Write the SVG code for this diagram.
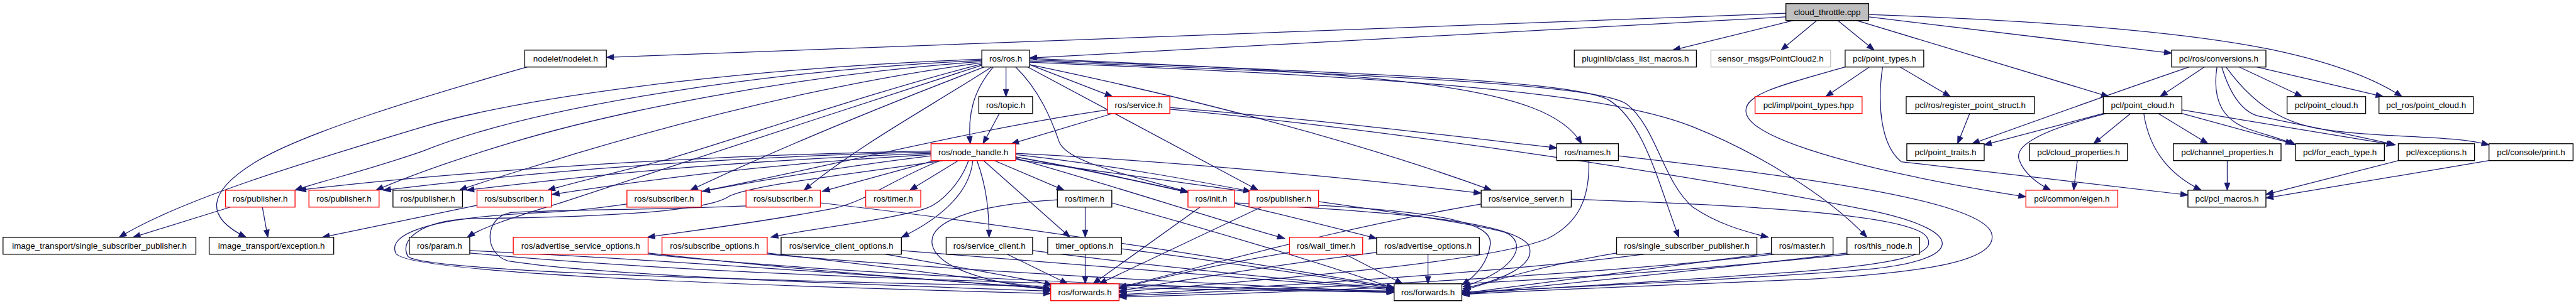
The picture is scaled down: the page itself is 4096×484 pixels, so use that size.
<svg xmlns="http://www.w3.org/2000/svg" width="4096" height="484" viewBox="0 0 4096 484">
<defs>
<style>
.e{fill:none;stroke:#191970;stroke-width:1.3;marker-end:url(#a)}
.b{fill:#fff;stroke:#000;stroke-width:1.4}
.r{stroke:#ff0000}
.g{fill:#bfbfbf}
.s{stroke:#bfbfbf}
text{font-family:"Liberation Sans",Arial,sans-serif;font-size:14px;text-anchor:middle;fill:#000}
</style>
<marker id="a" markerUnits="userSpaceOnUse" markerWidth="14" markerHeight="11" refX="12" refY="5" orient="auto" overflow="visible"><path d="M0,0.5 L12,5 L0,9.5 z" fill="#191970" stroke="#191970" stroke-width="1"/></marker>
</defs>
<rect width="4096" height="484" fill="#fff"/>
<g transform="scale(0.9613)">
<g id="edges">
<path class="e" d="M2954,22 L1003,95"/>
<path class="e" d="M2954,28 L1703,96"/>
<path class="e" d="M2966,34 L2767,83"/>
<path class="e" d="M3005,34 L2946,83"/>
<path class="e" d="M3040,34 L3100,83"/>
<path class="e" d="M3071,34 L3488,160"/>
<path class="e" d="M3091,28 L3592,88"/>
<path class="e" d="M3091,24 Q3550,40 3757,82 Q3900,112 3973,160"/>
<path class="e" d="M3092,111 L3020,160"/>
<path class="e" d="M3143,111 L3226,160"/>
<path class="e" d="M3052,111 C2950,140 2885,155 2888,185 C2892,235 3120,290 3351,326"/>
<path class="e" d="M3114,111 C3105,170 3110,240 3145,268 L3619,323"/>
<path class="e" d="M3621,111 Q3450,170 3262,238"/>
<path class="e" d="M3646,111 L3573,160"/>
<path class="e" d="M3667,111 C3658,170 3680,200 3720,214 C3750,224 3780,232 3797,240"/>
<path class="e" d="M3675,111 C3690,160 3710,185 3735,192 C3820,210 3900,225 3962,240"/>
<path class="e" d="M3682,111 C3725,170 3770,200 3830,212 C3930,230 4050,222 4117,240"/>
<path class="e" d="M3704,111 L3808,160"/>
<path class="e" d="M3733,111 L3942,160"/>
<path class="e" d="M3479,188 L3282,240"/>
<path class="e" d="M3524,188 L3463,238"/>
<path class="e" d="M3484,188 C3380,215 3330,240 3340,265 C3348,288 3372,305 3392,315"/>
<path class="e" d="M3546,188 C3555,250 3590,290 3641,315"/>
<path class="e" d="M3570,188 L3652,238"/>
<path class="e" d="M3609,188 L3793,238"/>
<path class="e" d="M3609,182 L3960,240"/>
<path class="e" d="M3258,188 L3238,238"/>
<path class="e" d="M3436,266 L3430,315"/>
<path class="e" d="M3684,266 L3684,315"/>
<path class="e" d="M3967,266 L3748,322"/>
<path class="e" d="M4117,266 L3748,328"/>
<path class="e" d="M1664,111 L1664,160"/>
<path class="e" d="M1643,111 C1610,150 1600,190 1605,238"/>
<path class="e" d="M1653,188 L1626,238"/>
<path class="e" d="M1703,107 L1840,160"/>
<path class="e" d="M1700,111 L2081,315"/>
<path class="e" d="M1680,111 C1720,150 1740,200 1752,235 C1765,268 1860,288 1965,318"/>
<path class="e" d="M1703,107 Q2150,200 2467,315"/>
<path class="e" d="M1703,97 C2300,122 2560,140 2616,238"/>
<path class="e" d="M1703,99 C2300,122 2600,135 2660,165 C2720,200 2745,310 2777,393"/>
<path class="e" d="M1703,101 C2300,125 2640,140 2690,172 C2740,210 2750,300 2800,343 C2840,370 2880,382 2925,393"/>
<path class="e" d="M1703,103 C2300,128 2650,150 2800,210 C2900,250 3020,320 3088,393"/>
<path class="e" d="M1624,98 C1300,110 900,150 700,210 C500,270 300,330 197,393"/>
<path class="e" d="M1624,100 C1300,115 900,170 700,250 C600,285 530,300 488,315"/>
<path class="e" d="M1624,102 C1300,125 1000,190 850,235 C750,265 680,290 622,315"/>
<path class="e" d="M1624,104 C1350,140 1100,210 950,255 C870,280 800,300 760,315"/>
<path class="e" d="M1624,106 C1450,150 1250,220 1100,265 C1000,290 940,305 906,315"/>
<path class="e" d="M1628,111 C1500,160 1300,240 1142,315"/>
<path class="e" d="M1640,111 C1550,170 1420,240 1330,315"/>
<path class="e" d="M1624,108 C1400,180 1100,280 930,335 C850,360 800,375 773,393"/>
<path class="e" d="M872,111 C700,160 500,220 420,270 C340,320 340,360 407,393"/>
<path class="e" d="M1540,250 C1100,258 700,290 494,315"/>
<path class="e" d="M1540,252 C1100,262 800,295 634,315"/>
<path class="e" d="M1540,254 C1150,268 900,300 772,315"/>
<path class="e" d="M1540,256 C1200,275 1000,310 913,322"/>
<path class="e" d="M1540,258 C1400,275 1250,300 1162,317"/>
<path class="e" d="M1545,266 C1480,285 1420,300 1360,317"/>
<path class="e" d="M1585,266 L1505,315"/>
<path class="e" d="M1645,266 L1760,315"/>
<path class="e" d="M1680,260 C1800,280 1880,300 1965,318"/>
<path class="e" d="M1680,256 C1850,275 1980,300 2069,317"/>
<path class="e" d="M1680,254 C1900,265 2200,290 2450,320"/>
<path class="e" d="M1555,266 C1470,300 1440,330 1380,345 C1250,370 1120,385 1071,393"/>
<path class="e" d="M1602,266 C1590,300 1560,335 1532,345 C1470,365 1330,380 1275,393"/>
<path class="e" d="M1609,266 C1605,310 1570,355 1491,393"/>
<path class="e" d="M1616,266 C1632,310 1636,350 1636,393"/>
<path class="e" d="M1627,266 L1770,393"/>
<path class="e" d="M1680,262 C1850,310 2000,360 2125,395"/>
<path class="e" d="M1680,260 C1900,300 2100,350 2277,395"/>
<path class="e" d="M1840,188 L1673,238"/>
<path class="e" d="M1935,178 C2200,200 2400,225 2575,245"/>
<path class="e" d="M1935,181 C2300,215 2800,290 3100,350 C3260,385 3240,430 3100,445 C2900,462 2550,478 2418,484"/>
<path class="e" d="M1832,182 C1500,230 1150,340 900,352 C700,360 640,390 655,420 C680,455 1300,475 1738,486"/>
<path class="e" d="M1560,266 C1400,290 1250,305 1206,325 C1170,350 1000,360 780,362 C690,366 660,400 675,425 C710,455 1500,472 2306,484"/>
<path class="e" d="M1234,341 C1100,347 900,348 845,352 C800,360 800,420 840,432 C1000,458 1500,474 1738,482"/>
<path class="e" d="M777,415 C1100,430 1500,460 1738,478"/>
<path class="e" d="M777,419 C1200,460 1900,475 2306,482"/>
<path class="e" d="M1072,419 C1300,445 1550,465 1738,478"/>
<path class="e" d="M1072,421 C1400,455 1900,475 2306,484"/>
<path class="e" d="M1269,419 C1450,440 1620,462 1738,478"/>
<path class="e" d="M1269,421 C1600,450 2000,470 2306,484"/>
<path class="e" d="M1464,421 C1600,445 1700,462 1740,472"/>
<path class="e" d="M1491,415 C1800,440 2100,465 2306,480"/>
<path class="e" d="M1666,421 L1766,470"/>
<path class="e" d="M1708,415 C1900,440 2150,465 2306,478"/>
<path class="e" d="M1795,421 L1795,470"/>
<path class="e" d="M1855,412 C2000,430 2200,460 2306,478"/>
<path class="e" d="M1795,343 L1795,393"/>
<path class="e" d="M1749,331 C1600,340 1535,370 1542,405 C1550,445 1640,470 1738,480"/>
<path class="e" d="M1839,336 C2000,380 2200,440 2306,478"/>
<path class="e" d="M2225,421 L2320,470"/>
<path class="e" d="M2133,418 C2000,440 1900,465 1851,478"/>
<path class="e" d="M2362,421 L2362,470"/>
<path class="e" d="M2277,418 C2100,440 1950,465 1851,482"/>
<path class="e" d="M1985,343 L1808,470"/>
<path class="e" d="M2086,343 L1818,470"/>
<path class="e" d="M2181,340 C2400,352 2470,372 2465,405 C2460,438 2440,458 2418,472"/>
<path class="e" d="M1680,264 C2000,310 2400,360 2490,385 C2525,400 2515,445 2420,475"/>
<path class="e" d="M2042,336 C2250,350 2490,360 2528,405 C2545,440 2480,465 2420,478"/>
<path class="e" d="M2599,330 C2900,340 3150,355 3185,390 C3210,420 3150,440 2900,455 C2700,470 2500,480 2418,486"/>
<path class="e" d="M2677,258 C2950,290 3290,330 3295,390 C3300,430 3200,450 3000,462 C2700,475 2500,482 2418,488"/>
<path class="e" d="M2628,266 C2630,330 2610,370 2560,395 C2450,440 2000,470 1851,484"/>
<path class="e" d="M2450,338 C2200,380 2000,440 1851,476"/>
<path class="e" d="M2674,419 C2550,440 2470,465 2418,482"/>
<path class="e" d="M2720,421 C2500,450 2100,475 1851,488"/>
<path class="e" d="M2930,419 C2700,450 2500,475 2418,486"/>
<path class="e" d="M2935,421 C2600,460 2100,480 1851,490"/>
<path class="e" d="M3055,419 C2800,450 2500,478 2418,488"/>
<path class="e" d="M3060,421 C2600,470 2100,485 1851,492"/>
<path class="e" d="M381,343 L220,393"/>
<path class="e" d="M434,343 L443,393"/>
<path class="e" d="M789,340 L533,393"/>
<path class="e" d="M1357,336 C1700,375 2100,440 2306,476"/>
</g>
<g id="n0"><rect class="b g" x="2954" y="6" width="137" height="28"/><text x="3022.5" y="25">cloud_throttle.cpp</text></g>
<g id="n1"><rect class="b" x="868" y="83" width="135" height="28"/><text x="935.5" y="102">nodelet/nodelet.h</text></g>
<g id="n2"><rect class="b" x="1624" y="83" width="79" height="28"/><text x="1663.5" y="102">ros/ros.h</text></g>
<g id="n3"><rect class="b" x="2604" y="83" width="202" height="28"/><text x="2705" y="102">pluginlib/class_list_macros.h</text></g>
<g id="n4"><rect class="b s" x="2830" y="83" width="198" height="28"/><text x="2929" y="102">sensor_msgs/PointCloud2.h</text></g>
<g id="n5"><rect class="b" x="3052" y="83" width="130" height="28"/><text x="3117" y="102">pcl/point_types.h</text></g>
<g id="n6"><rect class="b" x="3592" y="83" width="156" height="28"/><text x="3670" y="102">pcl/ros/conversions.h</text></g>
<g id="n7"><rect class="b" x="1619" y="160" width="89" height="28"/><text x="1663.5" y="179">ros/topic.h</text></g>
<g id="n8"><rect class="b r" x="1832" y="160" width="103" height="28"/><text x="1883.5" y="179">ros/service.h</text></g>
<g id="n9"><rect class="b r" x="2903" y="160" width="177" height="28"/><text x="2991.5" y="179">pcl/impl/point_types.hpp</text></g>
<g id="n10"><rect class="b" x="3153" y="160" width="212" height="28"/><text x="3259" y="179">pcl/ros/register_point_struct.h</text></g>
<g id="n11"><rect class="b" x="3479" y="160" width="130" height="28"/><text x="3544" y="179">pcl/point_cloud.h</text></g>
<g id="n12"><rect class="b" x="3783" y="160" width="130" height="28"/><text x="3848" y="179">pcl/point_cloud.h</text></g>
<g id="n13"><rect class="b" x="3935" y="160" width="156" height="28"/><text x="4013" y="179">pcl_ros/point_cloud.h</text></g>
<g id="n14"><rect class="b r" x="1540" y="238" width="140" height="28"/><text x="1610" y="257">ros/node_handle.h</text></g>
<g id="n15"><rect class="b" x="2575" y="238" width="102" height="28"/><text x="2626" y="257">ros/names.h</text></g>
<g id="n16"><rect class="b" x="3154" y="238" width="128" height="28"/><text x="3218" y="257">pcl/point_traits.h</text></g>
<g id="n17"><rect class="b" x="3357" y="238" width="162" height="28"/><text x="3438" y="257">pcl/cloud_properties.h</text></g>
<g id="n18"><rect class="b" x="3595" y="238" width="178" height="28"/><text x="3684" y="257">pcl/channel_properties.h</text></g>
<g id="n19"><rect class="b" x="3797" y="238" width="147" height="28"/><text x="3870.5" y="257">pcl/for_each_type.h</text></g>
<g id="n20"><rect class="b" x="3967" y="238" width="126" height="28"/><text x="4030" y="257">pcl/exceptions.h</text></g>
<g id="n21"><rect class="b" x="4117" y="238" width="139" height="28"/><text x="4186.5" y="257">pcl/console/print.h</text></g>
<g id="n22"><rect class="b r" x="373" y="315" width="115" height="28"/><text x="430.5" y="334">ros/publisher.h</text></g>
<g id="n23"><rect class="b r" x="511" y="315" width="116" height="28"/><text x="569" y="334">ros/publisher.h</text></g>
<g id="n24"><rect class="b" x="650" y="315" width="115" height="28"/><text x="707.5" y="334">ros/publisher.h</text></g>
<g id="n25"><rect class="b r" x="789" y="315" width="123" height="28"/><text x="850.5" y="334">ros/subscriber.h</text></g>
<g id="n26"><rect class="b r" x="1037" y="315" width="123" height="28"/><text x="1098.5" y="334">ros/subscriber.h</text></g>
<g id="n27"><rect class="b r" x="1234" y="315" width="123" height="28"/><text x="1295.5" y="334">ros/subscriber.h</text></g>
<g id="n28"><rect class="b r" x="1432" y="315" width="91" height="28"/><text x="1477.5" y="334">ros/timer.h</text></g>
<g id="n29"><rect class="b" x="1749" y="315" width="90" height="28"/><text x="1794" y="334">ros/timer.h</text></g>
<g id="n30"><rect class="b r" x="1965" y="315" width="77" height="28"/><text x="2003.5" y="334">ros/init.h</text></g>
<g id="n31"><rect class="b r" x="2066" y="315" width="115" height="28"/><text x="2123.5" y="334">ros/publisher.h</text></g>
<g id="n32"><rect class="b" x="2450" y="315" width="149" height="28"/><text x="2524.5" y="334">ros/service_server.h</text></g>
<g id="n33"><rect class="b r" x="3351" y="315" width="152" height="28"/><text x="3427" y="334">pcl/common/eigen.h</text></g>
<g id="n34"><rect class="b" x="3619" y="315" width="129" height="28"/><text x="3683.5" y="334">pcl/pcl_macros.h</text></g>
<g id="n35"><rect class="b" x="5" y="393" width="319" height="28"/><text x="164.5" y="412">image_transport/single_subscriber_publisher.h</text></g>
<g id="n36"><rect class="b" x="346" y="393" width="206" height="28"/><text x="449" y="412">image_transport/exception.h</text></g>
<g id="n37"><rect class="b" x="677" y="393" width="100" height="28"/><text x="727" y="412">ros/param.h</text></g>
<g id="n38"><rect class="b r" x="849" y="393" width="223" height="28"/><text x="960.5" y="412">ros/advertise_service_options.h</text></g>
<g id="n39"><rect class="b r" x="1095" y="393" width="174" height="28"/><text x="1182" y="412">ros/subscribe_options.h</text></g>
<g id="n40"><rect class="b" x="1292" y="393" width="199" height="28"/><text x="1391.5" y="412">ros/service_client_options.h</text></g>
<g id="n41"><rect class="b" x="1565" y="393" width="143" height="28"/><text x="1636.5" y="412">ros/service_client.h</text></g>
<g id="n42"><rect class="b" x="1733" y="393" width="122" height="28"/><text x="1794" y="412">timer_options.h</text></g>
<g id="n43"><rect class="b r" x="2133" y="393" width="121" height="28"/><text x="2193.5" y="412">ros/wall_timer.h</text></g>
<g id="n44"><rect class="b" x="2277" y="393" width="170" height="28"/><text x="2362" y="412">ros/advertise_options.h</text></g>
<g id="n45"><rect class="b" x="2674" y="393" width="232" height="28"/><text x="2790" y="412">ros/single_subscriber_publisher.h</text></g>
<g id="n46"><rect class="b" x="2930" y="393" width="102" height="28"/><text x="2981" y="412">ros/master.h</text></g>
<g id="n47"><rect class="b" x="3055" y="393" width="120" height="28"/><text x="3115" y="412">ros/this_node.h</text></g>
<g id="n48"><rect class="b r" x="1738" y="470" width="113" height="28"/><text x="1794.5" y="489">ros/forwards.h</text></g>
<g id="n49"><rect class="b" x="2306" y="470" width="112" height="28"/><text x="2362" y="489">ros/forwards.h</text></g>
</g>
</svg>
